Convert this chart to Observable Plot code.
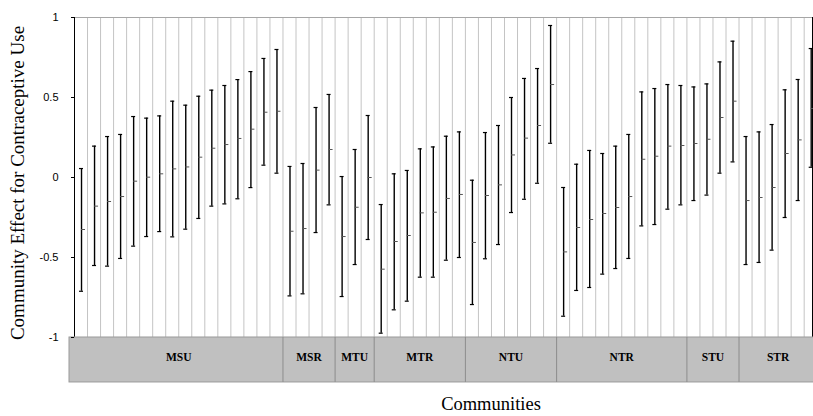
<!DOCTYPE html>
<html>
<head>
<meta charset="utf-8">
<script src="https://cdn.jsdelivr.net/npm/d3@7"></script>
<script src="https://cdn.jsdelivr.net/npm/@observablehq/plot@0.6"></script>
<style>
  body { margin: 0; background: #fff; }
  #chart svg { display: block; }
</style>
</head>
<body>
<div id="chart"></div>
<script>
// ---- data ----
const groups = ["MSU", "MSR", "MTU", "MTR", "NTU", "NTR", "STU", "STR"];
const groupSizes = [16, 4, 3, 7, 7, 10, 4, 6];

const lower = [
  -0.711, -0.55, -0.554, -0.506, -0.429, -0.369, -0.338, -0.371, -0.323, -0.256, -0.179, -0.165, -0.133, -0.063, 0.077, 0.027,
  -0.74, -0.727, -0.344, -0.171,
  -0.744, -0.544, -0.3875,
  -0.973, -0.827, -0.773, -0.623, -0.623, -0.517, -0.5,
  -0.794, -0.508, -0.419, -0.219, -0.136, -0.036, 0.214,
  -0.867, -0.706, -0.6875, -0.604, -0.569, -0.506, -0.3025, -0.294, -0.198, -0.171,
  -0.144, -0.11, 0.027, 0.0975,
  -0.544, -0.531, -0.454, -0.25, -0.144, 0.064
];
const mean = [
  -0.325, -0.179, -0.15, -0.119, -0.023, 0.002, 0.023, 0.054, 0.066, 0.127, 0.183, 0.206, 0.244, 0.302, 0.408, 0.414,
  -0.336, -0.319, 0.046, 0.175,
  -0.369, -0.186, 0.0,
  -0.573, -0.4, -0.3625, -0.221, -0.217, -0.131, -0.106,
  -0.406, -0.1125, -0.046, 0.141, 0.246, 0.325, 0.581,
  -0.465, -0.3125, -0.2625, -0.225, -0.1875, -0.119, 0.114, 0.133, 0.196, 0.2,
  0.2125, 0.239, 0.375, 0.477,
  -0.144, -0.125, -0.0625, 0.15, 0.235, 0.431
];
const upper = [
  0.056, 0.196, 0.256, 0.269, 0.381, 0.371, 0.385, 0.477, 0.452, 0.508, 0.546, 0.575, 0.612, 0.662, 0.744, 0.8,
  0.069, 0.0875, 0.4375, 0.519,
  0.006, 0.175, 0.3875,
  -0.169, 0.023, 0.044, 0.179, 0.191, 0.258, 0.285,
  -0.017, 0.281, 0.325, 0.5, 0.619, 0.681, 0.95,
  -0.0625, 0.083, 0.169, 0.15, 0.196, 0.269, 0.535, 0.556, 0.581, 0.575,
  0.566, 0.585, 0.7225, 0.852,
  0.256, 0.285, 0.331, 0.548, 0.6125, 0.806
];
const yTicks = [-1, -0.5, 0, 0.5, 1];
const yLabel = "Community Effect for Contraceptive Use";
const xLabel = "Communities";

// ---- derived tables ----
const n = mean.length;
const rows = mean.map((m, i) => ({ c: i + 0.5, lo: lower[i], m, hi: upper[i] }));
let start = 0;
const groupRows = groups.map((g, k) => {
  const r = { g, x1: start, x2: start + groupSizes[k], mid: start + groupSizes[k] / 2 };
  start += groupSizes[k];
  return r;
});

const serif = "'Liberation Serif', 'Times New Roman', serif";
const sans = "'Liberation Sans', Arial, sans-serif";
const step = 13.03;

const chart = Plot.plot({
  width: 813,
  height: 416,
  marginLeft: 74,
  marginTop: 17,
  marginRight: 1,
  marginBottom: 79,
  style: { background: "white", overflow: "hidden" },
  x: { type: "linear", domain: [0, n], range: [74, 74 + n * step], axis: null },
  y: { domain: [-1, 1], range: [337, 17], axis: null },
  marks: [
    // vertical gridlines between communities
    Plot.ruleX(d3.range(1, n), { y1: -1, y2: 1, stroke: "#c4c4c4", strokeWidth: 1 }),
    // top border
    Plot.ruleY([1], { stroke: "#a6a6a6" }),
    // left axis line
    Plot.ruleX([0], { y1: -1, y2: 1, stroke: "#000" }),
    // right border
    Plot.frame({ anchor: "right", stroke: "#000" }),
    // region band
    Plot.rect([{ x1: 0, x2: n }], { x1: "x1", x2: "x2", y1: -1, y2: -1.281, fill: "#c0c0c0", stroke: "#9a9a9a", insetLeft: -5 }),
    Plot.ruleX(groupRows.slice(1), { x: "x1", y1: -1, y2: -1.281, stroke: "#8c8c8c" }),
    Plot.text(groupRows, { x: "mid", y: -1.125, text: "g", fontWeight: "bold", fontFamily: serif, fontSize: 11.5, fill: "#000" }),
    // error bars
    Plot.ruleX(rows, { x: "c", y1: "lo", y2: "hi", stroke: "#000", strokeWidth: 1.4, dx: 0.5 }),
    Plot.ruleY(rows, { x1: "c", x2: "c", y: "hi", stroke: "#000", strokeWidth: 1.2, insetLeft: -2, insetRight: -2, dx: 0.5 }),
    Plot.ruleY(rows, { x1: "c", x2: "c", y: "lo", stroke: "#000", strokeWidth: 1.2, insetLeft: -2, insetRight: -2, dx: 0.5 }),
    Plot.ruleY(rows, { x1: "c", x2: "c", y: "m", stroke: "#555", strokeWidth: 1, insetRight: -4, dx: 0.5 }),
    // y axis
    Plot.axisY({ ticks: yTicks, tickFormat: d => String(d), tickSize: 3, tickPadding: 13, fontSize: 11, fontFamily: sans, label: null, anchor: "left" })
  ]
});

// axis titles
const svg = d3.select(chart);
svg.append("text")
  .attr("transform", "translate(17,183) rotate(-90)")
  .attr("text-anchor", "middle")
  .attr("dy", "0.35em")
  .attr("font-family", serif)
  .attr("font-size", 19)
  .attr("fill", "#000")
  .text(yLabel);
svg.append("text")
  .attr("x", 491)
  .attr("y", 410)
  .attr("text-anchor", "middle")
  .attr("font-family", serif)
  .attr("font-size", 18.5)
  .attr("fill", "#000")
  .text(xLabel);

document.getElementById("chart").appendChild(chart);
</script>
</body>
</html>
